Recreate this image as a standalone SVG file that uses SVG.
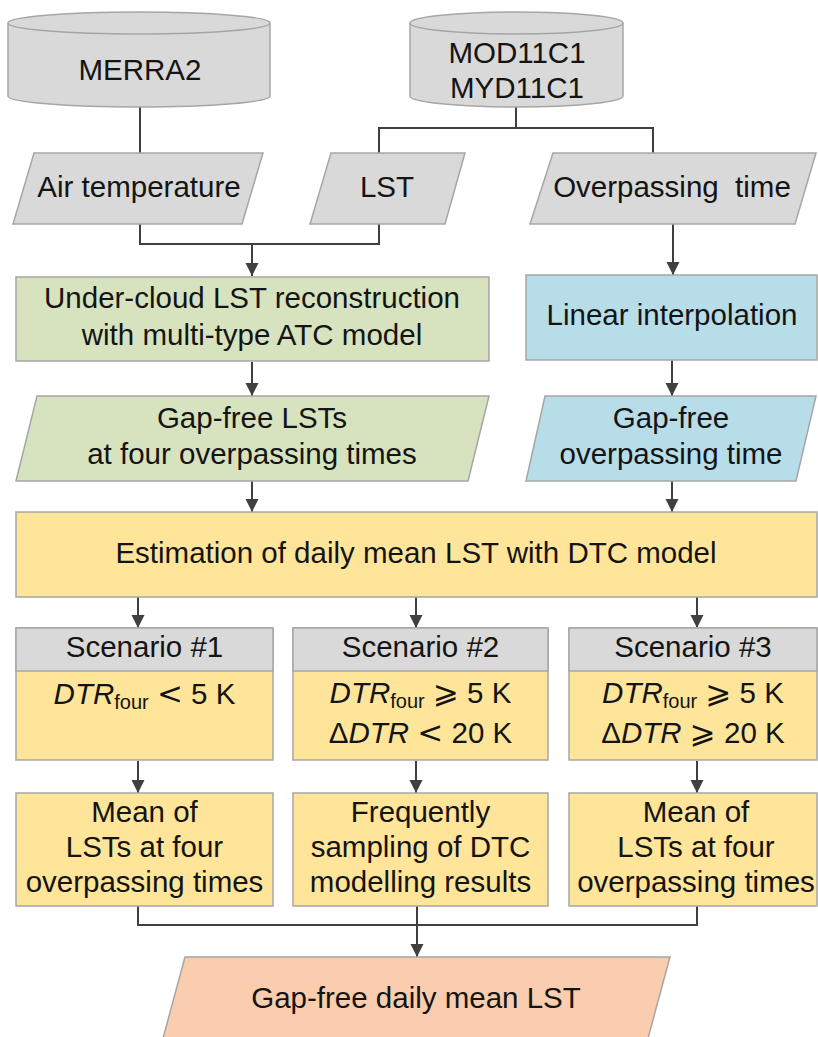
<svg xmlns="http://www.w3.org/2000/svg" width="818" height="1037" viewBox="0 0 818 1037">
<style>
  .t { font-family: "Liberation Sans", Arial, sans-serif; font-size: 29.5px; fill: #141414; text-anchor: middle; }
  .sub { font-size: 20px; }
  .it { font-style: italic; }
  .sym { font-family: "DejaVu Sans", "Liberation Sans", sans-serif; font-size: 31px; }
  .gray { fill: #d9d9d9; stroke: #a6a6a6; stroke-width: 1.5; }
  .green { fill: #d7e3bf; stroke: #a6a6a6; stroke-width: 1.5; }
  .blue { fill: #b7dde8; stroke: #a6a6a6; stroke-width: 1.5; }
  .yellow { fill: #fee59a; stroke: #a6a6a6; stroke-width: 1.5; }
  .peach { fill: #f9cdae; stroke: #a6a6a6; stroke-width: 1.5; }
  .conn { fill: none; stroke: #404040; stroke-width: 2; }
</style>
<defs>
  <marker id="arrow" markerUnits="userSpaceOnUse" markerWidth="14" markerHeight="14" refX="13" refY="6.5" orient="auto">
    <path d="M0,0 L13,6.5 L0,13 Z" fill="#404040"/>
  </marker>
</defs>
<rect width="818" height="1037" fill="#ffffff"/>

<g id="connectors">
  <path class="conn" d="M140,107 V153"/>
  <path class="conn" d="M516,107 V128"/>
  <path class="conn" d="M379,153 V128 H653 V153"/>
  <path class="conn" d="M140,224 V244 H379 V224"/>
  <path class="conn" d="M252,244 V276" marker-end="url(#arrow)"/>
  <path class="conn" d="M673,224 V275" marker-end="url(#arrow)"/>
  <path class="conn" d="M252,362 V396" marker-end="url(#arrow)"/>
  <path class="conn" d="M672,360 V396" marker-end="url(#arrow)"/>
  <path class="conn" d="M252,481 V512" marker-end="url(#arrow)"/>
  <path class="conn" d="M672,481 V512" marker-end="url(#arrow)"/>
  <path class="conn" d="M138,597 V628" marker-end="url(#arrow)"/>
  <path class="conn" d="M416,597 V628" marker-end="url(#arrow)"/>
  <path class="conn" d="M697,597 V628" marker-end="url(#arrow)"/>
  <path class="conn" d="M138,761 V793" marker-end="url(#arrow)"/>
  <path class="conn" d="M416,761 V793" marker-end="url(#arrow)"/>
  <path class="conn" d="M697,761 V793" marker-end="url(#arrow)"/>
  <path class="conn" d="M138,906 V925 H697 V906"/>
  <path class="conn" d="M417,906 V957" marker-end="url(#arrow)"/>
</g>

<g id="merra2">
  <path class="gray" d="M8,23 V96 A131,11 0 0 0 270,96 V23"/>
  <ellipse class="gray" cx="139" cy="23" rx="131" ry="11"/>
  <text class="t" x="140" y="80">MERRA2</text>
</g>

<g id="mod11c1">
  <path class="gray" d="M410,23 V96 A106.5,11 0 0 0 623,96 V23"/>
  <ellipse class="gray" cx="516.5" cy="23" rx="106.5" ry="11"/>
  <text class="t" x="517" y="63">MOD11C1</text>
  <text class="t" x="517" y="98">MYD11C1</text>
</g>

<g id="air-temperature">
  <polygon class="gray" points="34,153 263,153 242,224 13,224"/>
  <text class="t" x="139" y="197">Air temperature</text>
</g>

<g id="lst">
  <polygon class="gray" points="331,153 465,153 445,224 310,224"/>
  <text class="t" x="387" y="197">LST</text>
</g>

<g id="overpassing-time">
  <polygon class="gray" points="553,153 816,153 795,224 530,224"/>
  <text class="t" x="672" y="197" xml:space="preserve">Overpassing  time</text>
</g>

<g id="reconstruction">
  <rect class="green" x="16" y="277" width="473" height="84"/>
  <text class="t" x="252" y="308">Under-cloud LST reconstruction</text>
  <text class="t" x="252" y="345">with multi-type ATC model</text>
</g>

<g id="linear-interpolation">
  <rect class="blue" x="526" y="275" width="291" height="85"/>
  <text class="t" x="672" y="325">Linear interpolation</text>
</g>

<g id="gapfree-lsts">
  <polygon class="green" points="37,396 489,396 468,481 16,481"/>
  <text class="t" x="252" y="428">Gap-free LSTs</text>
  <text class="t" x="252" y="464">at four overpassing times</text>
</g>

<g id="gapfree-time">
  <polygon class="blue" points="545,396 816,396 796,481 526,481"/>
  <text class="t" x="671" y="428">Gap-free</text>
  <text class="t" x="671" y="464">overpassing time</text>
</g>

<g id="dtc-estimation">
  <rect class="yellow" x="16" y="512" width="801" height="85"/>
  <text class="t" x="416" y="563">Estimation of daily mean LST with DTC model</text>
</g>

<g id="scenario1">
  <rect class="yellow" x="16" y="628" width="257" height="132"/>
  <rect class="gray" x="16" y="628" width="257" height="43"/>
  <text class="t" x="144.5" y="657">Scenario #1</text>
  <text class="t" x="144.5" y="704"><tspan class="it">DTR</tspan><tspan class="sub" dy="5">four</tspan><tspan dy="-5"> </tspan><tspan class="sym">&lt;</tspan><tspan> 5 K</tspan></text>
</g>

<g id="scenario2">
  <rect class="yellow" x="293" y="628" width="255" height="132"/>
  <rect class="gray" x="293" y="628" width="255" height="43"/>
  <text class="t" x="420.5" y="657">Scenario #2</text>
  <text class="t" x="420.5" y="703"><tspan class="it">DTR</tspan><tspan class="sub" dy="5">four</tspan><tspan dy="-5"> </tspan><tspan class="sym">⩾</tspan><tspan> 5 K</tspan></text>
  <text class="t" x="420.5" y="743"><tspan>Δ</tspan><tspan class="it">DTR</tspan><tspan> </tspan><tspan class="sym">&lt;</tspan><tspan> 20 K</tspan></text>
</g>

<g id="scenario3">
  <rect class="yellow" x="569" y="628" width="248" height="132"/>
  <rect class="gray" x="569" y="628" width="248" height="43"/>
  <text class="t" x="693" y="657">Scenario #3</text>
  <text class="t" x="693" y="703"><tspan class="it">DTR</tspan><tspan class="sub" dy="5">four</tspan><tspan dy="-5"> </tspan><tspan class="sym">⩾</tspan><tspan> 5 K</tspan></text>
  <text class="t" x="693" y="743"><tspan>Δ</tspan><tspan class="it">DTR</tspan><tspan> </tspan><tspan class="sym">⩾</tspan><tspan> 20 K</tspan></text>
</g>

<g id="result1">
  <rect class="yellow" x="16" y="793" width="257" height="113"/>
  <text class="t" x="144.5" y="822">Mean of</text>
  <text class="t" x="144.5" y="857">LSTs at four</text>
  <text class="t" x="144.5" y="892">overpassing times</text>
</g>

<g id="result2">
  <rect class="yellow" x="293" y="793" width="255" height="113"/>
  <text class="t" x="420.5" y="822">Frequently</text>
  <text class="t" x="420.5" y="857">sampling of DTC</text>
  <text class="t" x="420.5" y="892">modelling results</text>
</g>

<g id="result3">
  <rect class="yellow" x="569" y="793" width="248" height="113"/>
  <text class="t" x="696" y="822">Mean of</text>
  <text class="t" x="696" y="857">LSTs at four</text>
  <text class="t" x="696" y="892">overpassing times</text>
</g>

<g id="daily-mean-lst">
  <polygon class="peach" points="185,957 670,957 647,1042 162,1042"/>
  <text class="t" x="416" y="1008">Gap-free daily mean LST</text>
</g>
</svg>
